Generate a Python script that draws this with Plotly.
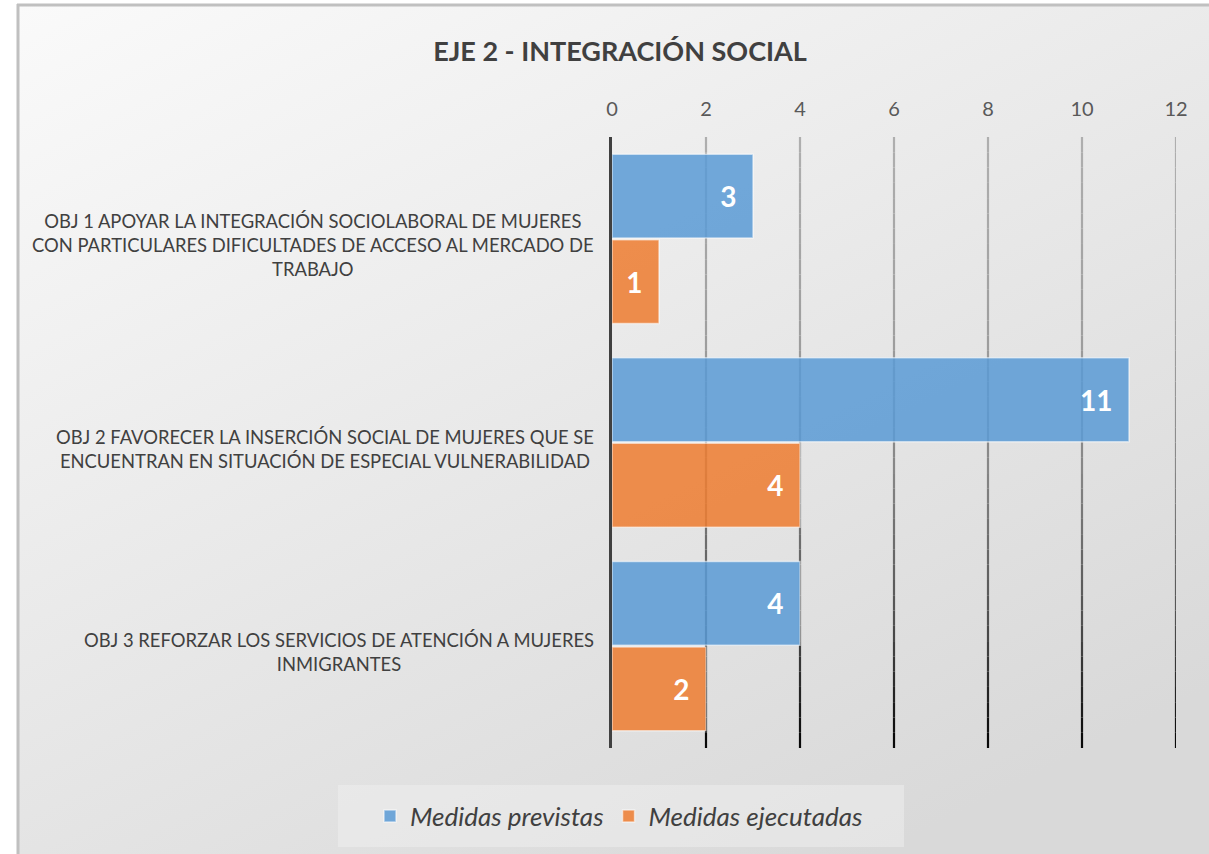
import base64
import plotly.graph_objects as go

# ---------------- data ----------------
categories = [
    "OBJ 1 APOYAR LA INTEGRACIÓN SOCIOLABORAL DE MUJERES<br>CON PARTICULARES DIFICULTADES DE ACCESO AL MERCADO DE<br>TRABAJO",
    "OBJ 2 FAVORECER LA INSERCIÓN SOCIAL DE MUJERES QUE SE<br>ENCUENTRAN EN SITUACIÓN DE ESPECIAL VULNERABILIDAD",
    "OBJ 3 REFORZAR LOS SERVICIOS DE ATENCIÓN A MUJERES<br>INMIGRANTES",
]
cat_keys = ["OBJ 1", "OBJ 2", "OBJ 3"]
medidas_previstas = [3, 11, 4]
medidas_ejecutadas = [1, 4, 2]
series_names = ["Medidas previstas", "Medidas ejecutadas"]
x_ticks = [0, 2, 4, 6, 8, 10, 12]
title_text = "EJE 2 - INTEGRACIÓN SOCIAL"

# ---------------- layout geometry ----------------
W, H = 1209, 854
L, R, T, B = 612, 33, 137, 106
PW, PH = W - L - R, H - T - B


def px_x(px):
    return (px - L) / PW


def px_y(py):
    return (H - B - py) / PH


FONT = "Lato"
NB = "\u00a0"

fig = go.Figure()
fig.add_trace(go.Bar(
    y=cat_keys, x=medidas_previstas, orientation="h", name=series_names[0],
    marker=dict(color="rgba(91,155,213,0.86)", line=dict(color="rgba(255,255,255,0.55)", width=1.5)),
    text=[f"{v}" + NB * 2 for v in medidas_previstas],
    textposition="inside", insidetextanchor="end", constraintext="none",
    textfont=dict(family=FONT, size=28, color="white", weight=700),
    hoverinfo="skip",
))
fig.add_trace(go.Bar(
    y=cat_keys, x=medidas_ejecutadas, orientation="h", name=series_names[1],
    marker=dict(color="rgba(237,125,49,0.86)", line=dict(color="rgba(255,255,255,0.55)", width=1.5)),
    text=[f"{v}" + NB * 2 for v in medidas_ejecutadas],
    textposition="inside", insidetextanchor="end", constraintext="none",
    textfont=dict(family=FONT, size=28, color="white", weight=700),
    hoverinfo="skip",
))

# background gradient image
svg = (
    "<svg xmlns='http://www.w3.org/2000/svg' width='1200' height='860' preserveAspectRatio='none'>"
    "<defs><linearGradient id='g' x1='0' y1='0' x2='0.7' y2='1'>"
    "<stop offset='0' stop-color='#fafafa'/><stop offset='1' stop-color='#d9d9d9'/>"
    "</linearGradient></defs><rect width='1200' height='860' fill='url(#g)'/></svg>"
)
src = "data:image/svg+xml;base64," + base64.b64encode(svg.encode()).decode()

shapes = []
# legend background box
shapes.append(dict(type="rect", xref="paper", yref="paper",
                   x0=px_x(338), x1=px_x(904), y0=px_y(847), y1=px_y(785),
                   fillcolor="rgba(240,240,240,0.5)", line=dict(width=0), layer="below"))
# outer border (top and left edges visible in the frame)
shapes.append(dict(type="line", xref="paper", yref="paper",
                   x0=px_x(17), x1=px_x(1220), y0=px_y(5), y1=px_y(5),
                   line=dict(color="#c0c0c0", width=3), layer="below"))
shapes.append(dict(type="line", xref="paper", yref="paper",
                   x0=px_x(18), x1=px_x(18), y0=px_y(4), y1=px_y(870),
                   line=dict(color="#c0c0c0", width=3), layer="below"))

# gradient gridlines (light at top, black at bottom)
stops = [(0.0, 175), (0.33, 158), (0.56, 132), (0.79, 80), (1.0, 5)]


def gray_at(t):
    for (t0, g0), (t1, g1) in zip(stops[:-1], stops[1:]):
        if t0 <= t <= t1:
            return g0 + (g1 - g0) * (t - t0) / (t1 - t0)
    return stops[-1][1]


NSEG = 40
for xv in x_ticks[1:]:
    for i in range(NSEG):
        t = (i + 0.5) / NSEG
        g = int(round(gray_at(t)))
        shapes.append(dict(type="line", xref="x", yref="paper", x0=xv, x1=xv,
                           y0=1 - i / NSEG, y1=1 - (i + 1) / NSEG,
                           line=dict(color=f"rgb({g},{g},{g})", width=2.2), layer="below"))

annotations = []
for key, lab in zip(cat_keys, categories):
    annotations.append(dict(
        x=px_x(596), xref="paper", y=key, yref="y", xanchor="right", yanchor="middle",
        yshift=-6, text=lab, align="center", showarrow=False,
        font=dict(family=FONT, size=18.4, color="#404040"),
    ))

fig.update_layout(
    width=W, height=H,
    margin=dict(l=L, r=R, t=T, b=B),
    paper_bgcolor="white", plot_bgcolor="rgba(0,0,0,0)",
    barmode="group", bargap=0.16, bargroupgap=0.02,
    title=dict(text=title_text, xref="container", yref="container",
               x=620 / W, y=1 - 52 / H, xanchor="center", yanchor="middle",
               font=dict(family=FONT, size=27, color="#404040", weight=700)),
    xaxis=dict(side="top", range=[0, 12], tickvals=x_ticks, showgrid=False, zeroline=False,
               ticks="outside", ticklen=12, tickcolor="rgba(0,0,0,0)",
               tickfont=dict(family=FONT, size=20, color="#595959"), fixedrange=True),
    yaxis=dict(autorange="reversed", showticklabels=False, showgrid=False, zeroline=False,
               showline=True, linecolor="#404040", linewidth=3, ticks=""),
    legend=dict(orientation="h", x=px_x(619), y=px_y(816), xanchor="center", yanchor="middle",
                bgcolor="rgba(0,0,0,0)", font=dict(family=FONT, size=26, color="#404040", style="italic"),
                itemwidth=30, traceorder="normal"),
    images=[dict(source=src, xref="paper", yref="paper", x=px_x(18), y=px_y(5),
                 sizex=(W + 10 - 18) / PW, sizey=(H + 10 - 5) / PH, sizing="stretch", layer="below",
                 xanchor="left", yanchor="top")],
    shapes=shapes,
    annotations=annotations,
    showlegend=True,
)

fig.write_html(
    "out.html",
    config={"displayModeBar": False},
    post_script="document.body.style.margin='0';document.body.style.overflow='hidden';",
)
